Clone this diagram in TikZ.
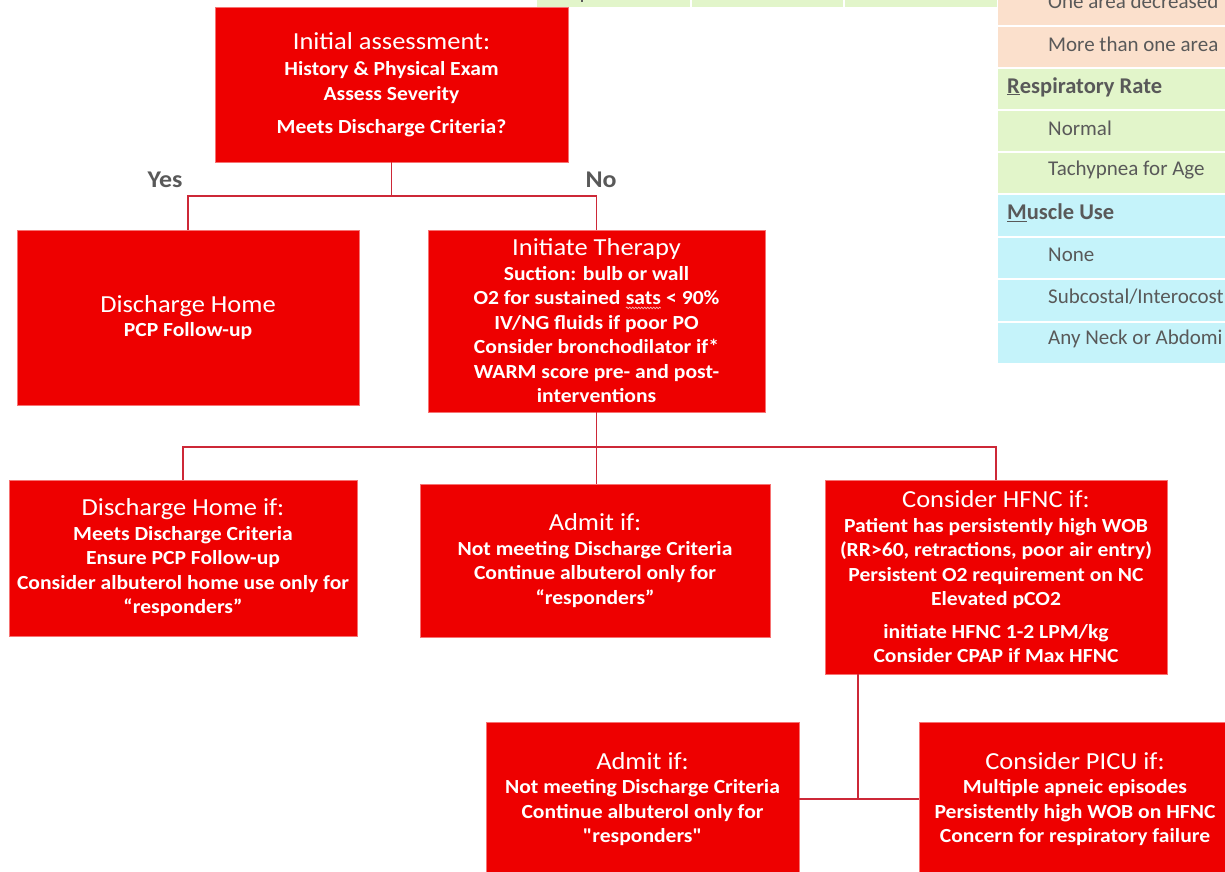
\documentclass[tikz,border=0pt]{standalone}
\usepackage{fontspec}
\setmainfont{Carlito}
\newfontfamily\boxfont{Carlito}[FakeStretch=1.08, Ligatures=TeXOff]
\usetikzlibrary{decorations.pathmorphing}
\definecolor{boxred}{RGB}{238,0,0}
\definecolor{connred}{RGB}{205,40,55}
\definecolor{txtgray}{RGB}{89,89,89}
\definecolor{peach}{RGB}{251,224,204}
\definecolor{lgreen}{RGB}{226,245,202}
\definecolor{lblue}{RGB}{197,243,250}
\tikzset{
  redbox/.style={fill=boxred, draw=boxred!55!white, line width=0.8pt, text=white, align=center, inner sep=0pt,
    font=\boxfont\bfseries\fontsize{20}{24.5}\selectfont},
  conn/.style={draw=connred, line width=1.6pt},
  ynlabel/.style={text=txtgray, font=\boxfont\bfseries\fontsize{24}{28}\selectfont, inner sep=0pt},
  cellhead/.style={text=txtgray, font=\fontsize{22.5}{26}\selectfont\bfseries, anchor=west, inner sep=0pt},
  cellitem/.style={text=txtgray, font=\fontsize{21}{24}\selectfont, anchor=west, inner sep=0pt},
}
\newcommand{\ttlfont}{\mdseries\fontsize{24.5}{27}\selectfont}
\newcommand{\wavyword}[1]{\tikz[baseline=(wv.base),x=1pt,y=1pt]{\node[inner sep=0pt,outer sep=0pt,draw=none,fill=none,minimum width=0pt,minimum height=0pt,text=white] (wv) {#1};
  \draw[white!70!boxred, line width=0.7pt, decorate, decoration={snake, amplitude=0.8pt, segment length=3pt}] ([yshift=-3pt]wv.base west) -- ([yshift=-3pt]wv.base east);}}
\begin{document}
\begin{tikzpicture}[x=1pt,y=-1pt]
\useasboundingbox (0,0) rectangle (1225,871);
% top strip table (partially visible)
\fill[lgreen] (537,-20) rectangle (997,7);
\fill[white] (689.5,-20) rectangle (691.5,7);
\fill[white] (842.5,-20) rectangle (844.5,7);
\fill[txtgray] (581,0) rectangle (583,2);
% right table
\fill[peach] (998,-20) rectangle (1240,24.5);
\fill[peach] (998,26.5) rectangle (1240,66.5);
\fill[lgreen] (998,68.5) rectangle (1240,108.5);
\fill[lgreen] (998,110.5) rectangle (1240,150.5);
\fill[lgreen] (998,152.5) rectangle (1240,192.5);
\fill[lblue] (998,194.5) rectangle (1240,235.5);
\fill[lblue] (998,237.5) rectangle (1240,277.5);
\fill[lblue] (998,279.5) rectangle (1240,320.5);
\fill[lblue] (998,322.5) rectangle (1240,362.5);
\node[cellitem] (t0) at (1048,1) {One area decreased};
\node[cellitem] (t1) at (1048,44) {More than one area};
\node[cellhead] (t2) at (1007,87) {\underline{R}espiratory Rate};
\node[cellitem] (t3) at (1048,128) {Normal};
\node[cellitem] (t4) at (1048,170) {Tachypnea for Age};
\node[cellhead] (t5) at (1007,213) {\underline{M}uscle Use};
\node[cellitem] (t6) at (1048,255) {None};
\node[cellitem] (t7) at (1048,297) {Subcostal/Interocost};
\node[cellitem] (t8) at (1048,339) {Any Neck or Abdomi};
% boxes
\node[redbox, minimum width=353pt, minimum height=155pt] (init) at (391.5,84.5)
  {{\ttlfont Initial assessment:}\\[2pt] History \& Physical Exam\\ Assess Severity\\[9pt] Meets Discharge Criteria?};
\node[redbox, minimum width=342pt, minimum height=175pt] (dh) at (188,317.5)
  {{\ttlfont Discharge Home}\\ PCP Follow-up};
\node[redbox, minimum width=337pt, minimum height=182pt] (it) at (596.5,321)
  {{\ttlfont Initiate Therapy}\\ Suction: bulb or wall\\ O2 for sustained \wavyword{sats} < 90\%\\ IV/NG fluids if poor PO\\ Consider bronchodilator if*\\ WARM score pre- and post-\\ interventions};
\node[redbox, minimum width=348pt, minimum height=156pt] (dhif) at (183,558)
  {{\ttlfont Discharge Home if:}\\ Meets Discharge Criteria\\ Ensure PCP Follow-up\\ Consider albuterol home use only for\\ “responders”};
\node[redbox, minimum width=350pt, minimum height=153pt] (adm) at (595,560.5)
  {{\ttlfont Admit if:}\\ Not meeting Discharge Criteria\\ Continue albuterol only for\\ “responders”};
\node[redbox, minimum width=342pt, minimum height=194pt] (hfnc) at (996,577)
  {{\ttlfont Consider HFNC if:}\\ Patient has persistently high WOB\\ (RR>60, retractions, poor air entry)\\ Persistent O2 requirement on NC\\ Elevated pCO2\\[8pt] initiate HFNC 1-2 LPM/kg\\ Consider CPAP if Max HFNC};
\node[redbox, minimum width=313pt, minimum height=154pt] (adm2) at (642.5,799)
  {{\ttlfont Admit if:}\\ Not meeting Discharge Criteria\\ Continue albuterol only for\\ "responders"};
\node[redbox, minimum width=312pt, minimum height=154pt] (picu) at (1075,799)
  {{\ttlfont Consider PICU if:}\\ Multiple apneic episodes\\ Persistently high WOB on HFNC\\ Concern for respiratory failure};
% labels
\node[ynlabel] (yes) at (165,180) {Yes};
\node[ynlabel] (no) at (601,180) {No};
% connectors
\coordinate (j1) at (391.5,196);
\draw[conn] (init.south) -- (j1);
\draw[conn] (dh.north) |- (j1) -| (it.north);
\coordinate (j2) at (596.5,447);
\draw[conn] (it.south) -- (it.south |- adm.north);
\draw[conn] (dhif.north) |- (j2) -| (hfnc.north);
\coordinate (j3) at (858,800);
\draw[conn] (hfnc.south -| j3) -- (j3);
\draw[conn] (adm2.east) -- (picu.west);
\end{tikzpicture}
\end{document}
